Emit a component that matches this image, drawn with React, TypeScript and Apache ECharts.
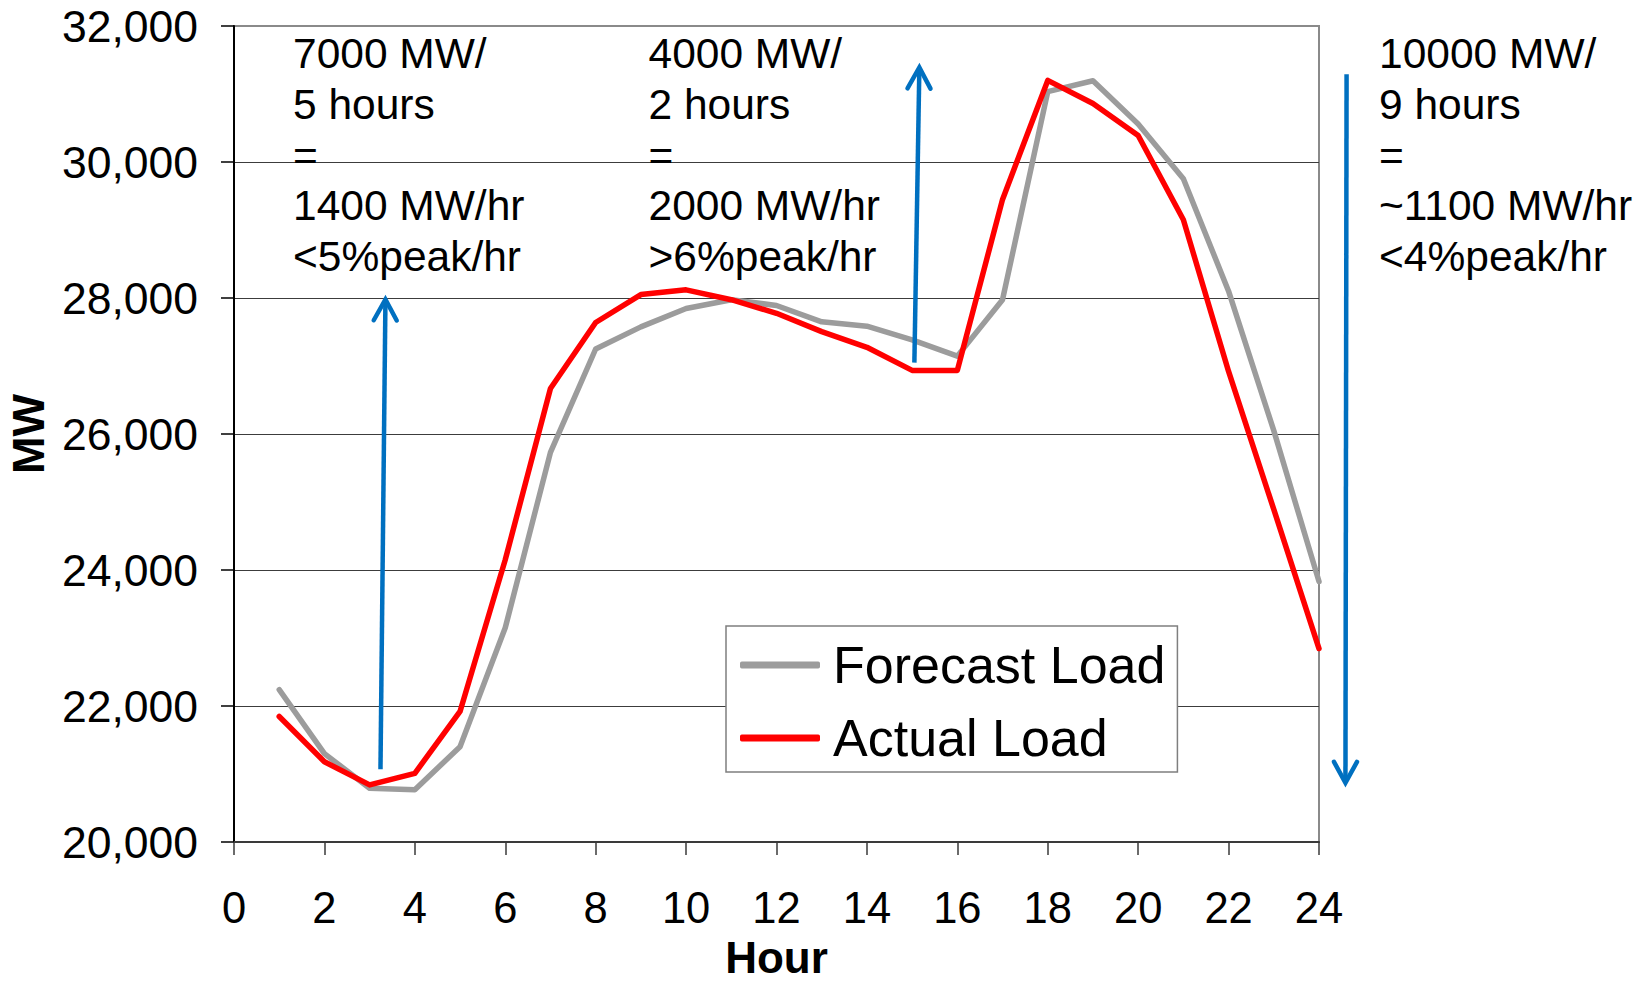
import React, { useEffect, useRef } from "react";
import * as echarts from "echarts";

// ---------- data ----------
const hours = [1, 2, 3, 4, 5, 6, 7, 8, 9, 10, 11, 12, 13, 14, 15, 16, 17, 18, 19, 20, 21, 22, 23, 24];
const forecastLoad = [22240, 21300, 20790, 20770, 21400, 23150, 25730, 27250, 27575, 27845, 27975, 27890, 27650, 27585, 27385, 27145, 27975, 31035, 31195, 30560, 29755, 28100, 26050, 23830];
const actualLoad = [21845, 21180, 20840, 21010, 21920, 24150, 26670, 27640, 28050, 28120, 27975, 27775, 27505, 27275, 26935, 26935, 29450, 31200, 30860, 30390, 29150, 26920, 24890, 22845];
const seriesNames = ["Forecast Load", "Actual Load"];
const xAxisRange = [0, 24, 2];
const yAxisRange = [20000, 32000, 2000];

// annotation texts
const note1 = ["7000 MW/", "5 hours", "=", "1400 MW/hr", "<5%peak/hr"];
const note2 = ["4000 MW/", "2 hours", "=", "2000 MW/hr", ">6%peak/hr"];
const note3 = ["10000 MW/", "9 hours", "=", "~1100 MW/hr", "<4%peak/hr"];

// arrows in data coordinates [hour, MW]: from -> tip
const arrowFrom = [[3.24, 21070], [15.05, 27050], [24.61, 31290]];
const arrowTip = [[3.35, 27980], [15.16, 31390], [24.585, 20870]];

const FONT = "'Liberation Sans', Arial, Helvetica, sans-serif";
const BLUE = "#0070C0";

const fmt = (v: number) => String(v).replace(/\B(?=(\d{3})+(?!\d))/g, ",");

export default function App() {
  const ref = useRef<HTMLDivElement>(null);

  useEffect(() => {
    if (!ref.current) return;
    const chart = echarts.init(ref.current, null, { renderer: "svg", width: 1652, height: 982 });

    const option: any = {
      animation: false,
      backgroundColor: "#ffffff",
      grid: {
        left: 234,
        right: 333,
        top: 26,
        bottom: 140,
        show: true,
        borderColor: "#8a8a8a",
        borderWidth: 2,
        backgroundColor: "transparent",
        containLabel: false,
        outerBoundsMode: "none",
      },
      legend: {
        orient: "vertical",
        left: 726,
        top: 626,
        data: seriesNames,
        backgroundColor: "#ffffff",
        borderColor: "#7f7f7f",
        borderWidth: 1.5,
        borderRadius: 0,
        padding: [9, 12, 4, 14],
        itemGap: 13,
        itemWidth: 80,
        itemHeight: 7,
        icon: "roundRect",
        textStyle: { fontSize: 52, color: "#000", fontFamily: FONT, lineHeight: 60, padding: [0, 0, 0, 8] },
      },
      xAxis: {
        type: "value",
        min: xAxisRange[0],
        max: xAxisRange[1],
        interval: xAxisRange[2],
        name: "Hour",
        nameLocation: "middle",
        nameGap: 97,
        nameTextStyle: { fontFamily: FONT, fontSize: 44, fontWeight: "bold", color: "#000", lineHeight: 36 },
        axisLine: { show: true, onZero: false, lineStyle: { color: "#3a3a3a", width: 2 } },
        axisTick: { show: true, inside: false, length: 13, lineStyle: { color: "#3a3a3a", width: 1.5 } },
        axisLabel: { fontSize: 43.5, color: "#000", margin: 44, fontFamily: FONT },
        splitLine: { show: false },
      },
      yAxis: {
        type: "value",
        min: yAxisRange[0],
        max: yAxisRange[1],
        interval: yAxisRange[2],
        name: "MW",
        nameLocation: "middle",
        nameRotate: 90,
        nameGap: 182,
        nameTextStyle: { fontFamily: FONT, fontSize: 45, fontWeight: "bold", color: "#000" },
        axisLine: { show: true, onZero: false, lineStyle: { color: "#000", width: 2 } },
        axisTick: { show: true, inside: false, length: 13, lineStyle: { color: "#000", width: 1.5 } },
        axisLabel: { fontSize: 44.5, color: "#000", margin: 36, fontFamily: FONT, formatter: (v: number) => fmt(v) },
        splitLine: { show: true, showMaxLine: false, showMinLine: false, lineStyle: { color: "#3c3c3c", width: 1.2 } },
      },
      series: [
        {
          name: seriesNames[0],
          type: "line",
          data: hours.map((h, i) => [h, forecastLoad[i]]),
          symbol: "none",
          color: "#9c9c9c",
          lineStyle: { color: "#9c9c9c", width: 5.5, cap: "round", join: "round" },
          clip: false,
          z: 2,
        },
        {
          name: seriesNames[1],
          type: "line",
          data: hours.map((h, i) => [h, actualLoad[i]]),
          symbol: "none",
          color: "#ff0000",
          lineStyle: { color: "#ff0000", width: 5.5, cap: "round", join: "round" },
          clip: false,
          z: 3,
        },
      ],
    };
    chart.setOption(option);

    // build arrows from data coordinates
    const arrowEls: any[] = [];
    for (let i = 0; i < arrowFrom.length; i++) {
      const a = chart.convertToPixel({ gridIndex: 0 }, arrowFrom[i]) as number[];
      const t = chart.convertToPixel({ gridIndex: 0 }, arrowTip[i]) as number[];
      const dx = t[0] - a[0];
      const dy = t[1] - a[1];
      const len = Math.sqrt(dx * dx + dy * dy);
      const ux = dx / len;
      const uy = dy / len;
      const nx = -uy;
      const ny = ux;
      const back = 21;
      const half = 11.5;
      const p1 = [t[0] - ux * back + nx * half, t[1] - uy * back + ny * half];
      const p2 = [t[0] - ux * back - nx * half, t[1] - uy * back - ny * half];
      arrowEls.push({
        type: "line",
        z: 10,
        shape: { x1: a[0], y1: a[1], x2: t[0] - ux * 2, y2: t[1] - uy * 2 },
        style: { stroke: BLUE, lineWidth: 4.5 },
      });
      arrowEls.push({
        type: "polyline",
        z: 10,
        shape: { points: [p1, t, p2] },
        style: { stroke: BLUE, lineWidth: 4.5, fill: null, lineCap: "round", lineJoin: "miter" },
      });
    }

    const noteEl = (lines: string[], x: number) => ({
      type: "text",
      x,
      y: 28.2,
      z: 10,
      style: {
        text: lines.join("\n"),
        fontSize: 42.5,
        lineHeight: 50.8,
        fontFamily: FONT,
        fill: "#000",
        align: "left",
        verticalAlign: "top",
      },
    });

    chart.setOption({
      graphic: [noteEl(note1, 293), noteEl(note2, 648.5), noteEl(note3, 1379), ...arrowEls],
    });

    return () => chart.dispose();
  }, []);

  return (
    <div
      ref={ref}
      style={{ position: "fixed", left: 0, top: 0, width: 1652, height: 982, background: "#fff" }}
    />
  );
}
